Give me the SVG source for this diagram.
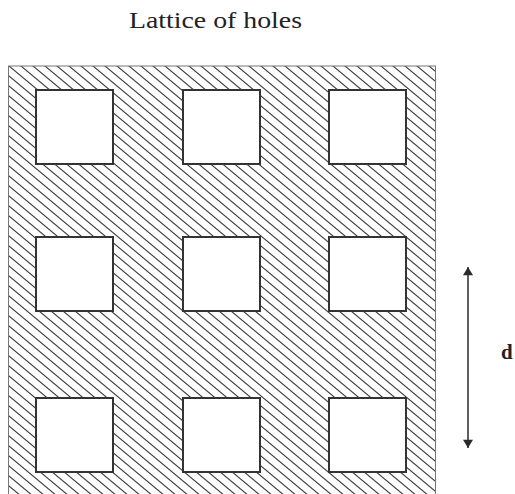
<svg xmlns="http://www.w3.org/2000/svg" width="515" height="494" viewBox="0 0 515 494">
  <style>
    .hole { fill: #ffffff; stroke: #333333; stroke-width: 2; }
    .label { font-family: "Liberation Serif", "Times New Roman", serif; fill: #222222; }
    .conn { stroke: #2a2a2a; stroke-width: 1.5; fill: none; }
    .h { stroke: #3c3c3c; stroke-width: 1.1; }
  </style>
  <defs>
    <pattern id="hatch" patternUnits="userSpaceOnUse" x="9" y="66" width="12" height="10">
      <line class="h" x1="-2" y1="-1.667" x2="14" y2="11.667"/>
      <line class="h" x1="-14" y1="-1.667" x2="2" y2="11.667"/>
      <line class="h" x1="10" y1="-1.667" x2="26" y2="11.667"/>
    </pattern>
    <marker id="arrow" viewBox="0 0 10 12" refX="10" refY="6" markerUnits="userSpaceOnUse" markerWidth="13" markerHeight="10" orient="auto-start-reverse">
      <path d="M0,0 L10,6 L0,12 Z" fill="#2a2a2a"/>
    </marker>
  </defs>

  <text class="label" x="129" y="28" font-size="23" textLength="173" lengthAdjust="spacingAndGlyphs">Lattice of holes</text>

  <g id="plate">
    <rect x="8.5" y="66" width="427" height="440" fill="url(#hatch)" stroke="#777777" stroke-width="1"/>
  </g>

  <g id="hole-r1c1"><rect class="hole" x="36" y="90" width="77" height="74"/></g>
  <g id="hole-r1c2"><rect class="hole" x="183" y="90" width="77" height="74"/></g>
  <g id="hole-r1c3"><rect class="hole" x="329" y="90" width="77" height="74"/></g>
  <g id="hole-r2c1"><rect class="hole" x="36" y="237" width="77" height="74"/></g>
  <g id="hole-r2c2"><rect class="hole" x="183" y="237" width="77" height="74"/></g>
  <g id="hole-r2c3"><rect class="hole" x="329" y="237" width="77" height="74"/></g>
  <g id="hole-r3c1"><rect class="hole" x="36" y="398" width="77" height="74"/></g>
  <g id="hole-r3c2"><rect class="hole" x="183" y="398" width="77" height="74"/></g>
  <g id="hole-r3c3"><rect class="hole" x="329" y="398" width="77" height="74"/></g>

  <g id="connectors">
    <line class="conn" x1="468" y1="267" x2="468" y2="448" marker-start="url(#arrow)" marker-end="url(#arrow)"/>
  </g>

  <text class="label" x="501" y="359" font-size="21" font-weight="bold">d</text>
</svg>
